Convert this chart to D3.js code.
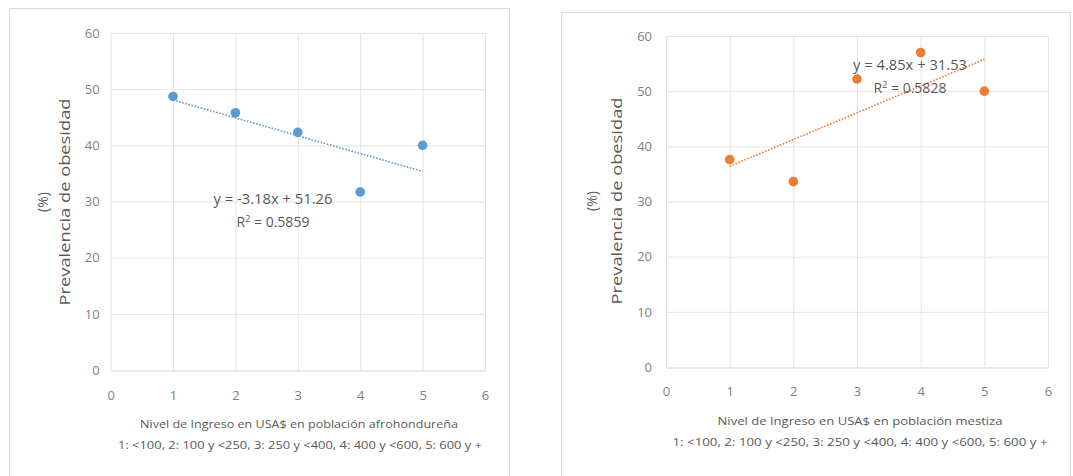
<!DOCTYPE html>
<html><head><meta charset="utf-8">
<script src="https://cdn.jsdelivr.net/npm/d3@7"></script>
<style>body{margin:0;background:#fff;font-family:"Open Sans","Liberation Sans",sans-serif;}</style>
</head><body>
<svg id="c" width="1073" height="476"></svg>
<script>
const incomeLevels = [1, 2, 3, 4, 5];
const afroValues = [48.7, 45.8, 42.3, 31.7, 40.0];
const mestizaValues = [37.6, 33.6, 52.2, 57.0, 50.0];
const afroTrend = {slope: -3.18, intercept: 51.26, r2: "0.5859"};
const mestizaTrend = {slope: 4.85, intercept: 31.53, r2: "0.5828"};
const xTicks = [0, 1, 2, 3, 4, 5, 6];
const yTicks = [0, 10, 20, 30, 40, 50, 60];
const yTitle = "Prevalencia de obesidad";
const yUnit = "(%)";
const afroXTitle = "Nivel de Ingreso en USA$ en población afrohondureña";
const mestizaXTitle = "Nivel de Ingreso en USA$ en población mestiza";
const xSubtitle = "1: <100, 2: 100 y <250, 3: 250 y <400, 4: 400 y <600, 5: 600 y +";

const svg = d3.select("#c");
const txt = "#595959";
const tickCol = "#808080";

function drawChart(o) {
  const g = svg.append("g");
  g.append("rect").attr("x", o.box[0]).attr("y", o.box[1]).attr("width", o.box[2]).attr("height", o.box[3])
    .attr("fill", "#fff").attr("stroke", "#d9d9d9").attr("stroke-width", 1);
  const x = d3.scaleLinear().domain([0, 6]).range([o.x0, o.x1]);
  const y = d3.scaleLinear().domain([0, 60]).range([o.y0, o.y1]);
  // grid
  g.selectAll(".gy").data(yTicks.slice(1)).join("line")
    .attr("x1", o.x0).attr("x2", o.x1).attr("y1", d => y(d) + 0.5).attr("y2", d => y(d) + 0.5)
    .attr("stroke", "#e3e3e3");
  g.selectAll(".gx").data(xTicks.slice(1)).join("line")
    .attr("x1", d => x(d) + 0.5).attr("x2", d => x(d) + 0.5).attr("y1", o.y0).attr("y2", o.y1)
    .attr("stroke", "#e3e3e3");
  g.append("line").attr("x1", o.x0 + 0.5).attr("x2", o.x0 + 0.5).attr("y1", o.y0).attr("y2", o.y1).attr("stroke", "#e3e3e3");
  // axes
  const ax = g.append("g").attr("transform", `translate(0,${o.y0 + 0.5})`)
    .call(d3.axisBottom(x).tickValues(xTicks).tickFormat(d3.format("d")).tickSize(0).tickPadding(o.xPad));
  ax.select(".domain").attr("stroke", "#cfcfcf");
  ax.selectAll("text").attr("fill", tickCol).style("font-size", "13px").style("font-family", "Open Sans, sans-serif");
  const ay = g.append("g").attr("transform", `translate(${o.x0},0)`)
    .call(d3.axisLeft(y).tickValues(yTicks).tickSize(0).tickPadding(o.yPad));
  ay.select(".domain").remove();
  ay.selectAll("text").attr("fill", tickCol).style("font-size", "13px").style("font-family", "Open Sans, sans-serif");
  // y titles
  g.append("text").attr("transform", `translate(${o.yTitleX},${o.yTitleY}) rotate(-90)`)
    .attr("text-anchor", "middle").attr("fill", txt).style("font-size", "14px")
    .attr("textLength", 207).attr("lengthAdjust", "spacingAndGlyphs").text(yTitle);
  g.append("text").attr("transform", `translate(${o.yUnitX},${o.yTitleY}) rotate(-90)`)
    .attr("text-anchor", "middle").attr("fill", txt).style("font-size", "14px").text(yUnit);
  // x titles
  g.append("text").attr("x", o.xt1[0]).attr("y", o.xt1[1]).attr("text-anchor", "middle").attr("fill", txt)
    .style("font-size", "11px").attr("textLength", o.xt1[2]).attr("lengthAdjust", "spacingAndGlyphs").text(o.xTitle);
  g.append("text").attr("x", o.xt2[0]).attr("y", o.xt2[1]).attr("text-anchor", "middle").attr("fill", txt)
    .style("font-size", "11px").attr("textLength", o.xt2[2]).attr("lengthAdjust", "spacingAndGlyphs").text(xSubtitle);
  // trend line
  const tx = [incomeLevels[0], incomeLevels[incomeLevels.length - 1]];
  g.append("line")
    .attr("x1", x(tx[0])).attr("y1", y(o.trend.slope * tx[0] + o.trend.intercept))
    .attr("x2", x(tx[1])).attr("y2", y(o.trend.slope * tx[1] + o.trend.intercept))
    .attr("stroke", o.color).attr("stroke-width", 1.6).attr("stroke-dasharray", "1.6,1.6");
  // points
  g.selectAll(".pt").data(incomeLevels.map((d, i) => [d, o.values[i]])).join("circle")
    .attr("cx", d => x(d[0])).attr("cy", d => y(d[1])).attr("r", 4.8).attr("fill", o.color);
  // equation
  const sign = o.trend.intercept >= 0 ? "+" : "-";
  g.append("text").attr("x", o.eq[0]).attr("y", o.eq[1]).attr("text-anchor", "middle").attr("fill", txt)
    .style("font-size", "14px").attr("textLength", o.eq[2]).attr("lengthAdjust", "spacingAndGlyphs")
    .text(`y = ${o.trend.slope.toFixed(2)}x ${sign} ${Math.abs(o.trend.intercept).toFixed(2)}`);
  const r = g.append("text").attr("x", o.eq[0]).attr("y", o.eq[1] + 23).attr("text-anchor", "middle").attr("fill", txt)
    .style("font-size", "14px");
  r.append("tspan").text("R");
  r.append("tspan").attr("dy", -5).style("font-size", "9px").text("2");
  r.append("tspan").attr("dy", 5).text(` = ${o.trend.r2}`);
}

drawChart({
  box: [9.5, 8.5, 500, 480], x0: 110.6, x1: 485, y0: 370, y1: 33,
  xPad: 20, yPad: 11, yTitleX: 70, yUnitX: 48, yTitleY: 202,
  xTitle: afroXTitle, xt1: [299, 428, 318], xt2: [300, 449, 364],
  values: afroValues, trend: afroTrend, color: "#5b9bd5", eq: [273, 204, 119]
});
drawChart({
  box: [561.5, 12.5, 509, 480], x0: 666, x1: 1048, y0: 367, y1: 36,
  xPad: 19, yPad: 14, yTitleX: 622, yUnitX: 597, yTitleY: 201,
  xTitle: mestizaXTitle, xt1: [860, 425, 285], xt2: [860, 446, 375],
  values: mestizaValues, trend: mestizaTrend, color: "#ed7d31", eq: [910, 70, 114]
});
</script>
</body></html>
